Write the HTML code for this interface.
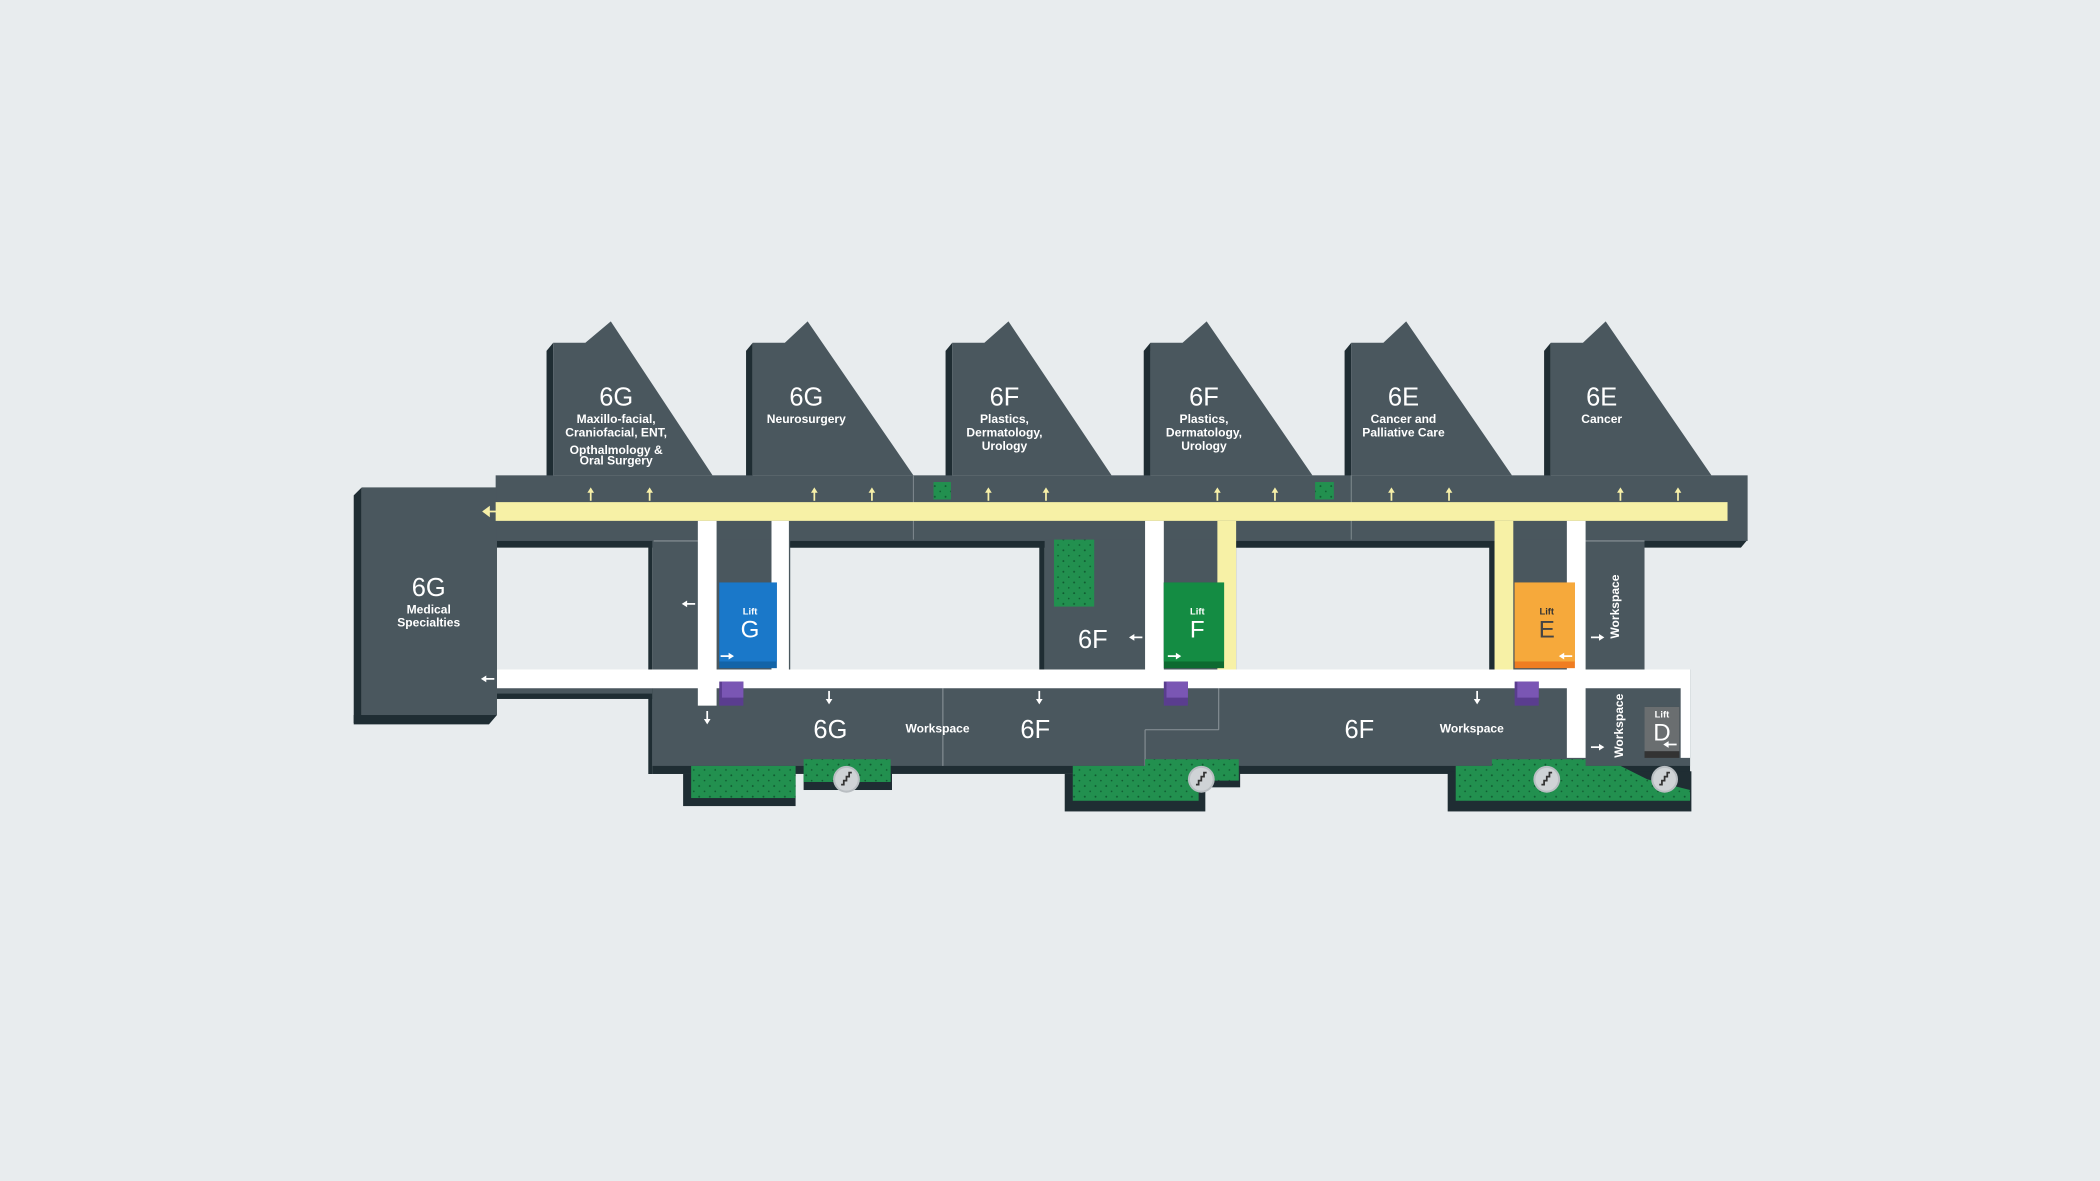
<!DOCTYPE html>
<html><head><meta charset="utf-8"><style>
html,body{margin:0;padding:0;background:#e8ecee;}
svg{display:block}
text{font-family:"Liberation Sans",sans-serif;fill:#fff;text-anchor:middle;font-weight:bold}
text.big{font-weight:normal}
</style></head><body>
<svg width="2100" height="1181" viewBox="0 0 1568 882" xmlns="http://www.w3.org/2000/svg">
<defs>
<pattern id="dots" width="8" height="8" patternUnits="userSpaceOnUse">
<rect width="8" height="8" fill="#22904f"/><circle cx="2" cy="3" r="0.7" fill="#0f5a30"/><circle cx="6" cy="7" r="0.6" fill="#0f5a30"/>
</pattern>
<g id="up"><line x1="0" y1="0" x2="0" y2="-8" stroke="#f7f0a8" stroke-width="1.3"/><path d="M-2.5,-6 L0,-10 L2.5,-6Z" fill="#f7f0a8"/></g>
<g id="wl"><line x1="0" y1="0" x2="8" y2="0" stroke="#fff" stroke-width="1.3"/><path d="M2,-2.5 L-2,0 L2,2.5Z" fill="#fff"/></g>
<g id="wr"><line x1="0" y1="0" x2="-8" y2="0" stroke="#fff" stroke-width="1.3"/><path d="M-2,-2.5 L2,0 L-2,2.5Z" fill="#fff"/></g>
<g id="wd"><line x1="0" y1="0" x2="0" y2="-8" stroke="#fff" stroke-width="1.3"/><path d="M-2.5,-2 L0,2 L2.5,-2Z" fill="#fff"/></g>
<g id="stair"><circle r="10" fill="#b9bec2"/><circle r="8.5" fill="#cfd3d6"/><path d="M-4,4 L-2,4 L-2,1 L0,1 L0,-2 L2,-2 L2,-5 L4,-5" stroke="#333" stroke-width="1.3" fill="none"/></g>
</defs>
<rect width="1568" height="882" fill="#e8ecee"/>

<g fill="#1f2d33">
<path d="M408,262 L413,256 L413,360 L408,360Z"/>
<path d="M557,262 L562,256 L562,360 L557,360Z"/>
<path d="M706,262 L711,256 L711,360 L706,360Z"/>
<path d="M854,262 L859,256 L859,360 L854,360Z"/>
<path d="M1004,262 L1009,256 L1009,360 L1004,360Z"/>
<path d="M1153,262 L1158,256 L1158,360 L1153,360Z"/>
</g>
<g fill="#4a575e">
<path d="M413,256 L437,256 L456,240 L532,355 L413,355Z"/>
<path d="M562,256 L586,256 L603,240 L682,355 L562,355Z"/>
<path d="M711,256 L735,256 L753,240 L830,355 L711,355Z"/>
<path d="M859,256 L883,256 L901,240 L980,355 L859,355Z"/>
<path d="M1009,256 L1033,256 L1050,240 L1129,355 L1009,355Z"/>
<path d="M1158,256 L1182,256 L1199,240 L1278,355 L1158,355Z"/>
</g>

<path d="M370,403 L1305,403 L1300,409 L370,409Z" fill="#1f2d33"/>
<rect x="370" y="355" width="935" height="49" fill="#4a575e"/>
<line x1="682" y1="355" x2="682" y2="403" stroke="#7c878c" stroke-width="0.8"/>
<line x1="1009" y1="355" x2="1009" y2="403" stroke="#7c878c" stroke-width="0.8"/>

<path d="M484,408 L487,405 L487,578 L484,578Z" fill="#1f2d33"/>
<rect x="487" y="403" width="103" height="175" fill="#4a575e"/>
<rect x="590" y="405" width="190" height="4" fill="#1f2d33"/>
<rect x="776" y="405" width="4" height="95" fill="#1f2d33"/>
<rect x="780" y="403" width="143" height="97" fill="#4a575e"/>
<rect x="923" y="405" width="193" height="4" fill="#1f2d33"/>
<rect x="1112" y="405" width="4" height="95" fill="#1f2d33"/>
<rect x="1116" y="403" width="112" height="97" fill="#4a575e"/>
<rect x="371" y="514" width="116" height="8" fill="#1f2d33"/>
<rect x="371" y="512" width="116" height="6" fill="#4a575e"/>
<rect x="487" y="500" width="775" height="78" fill="#1f2d33"/>
<rect x="487" y="500" width="775" height="72" fill="#4a575e"/>
<line x1="488" y1="404" x2="521" y2="404" stroke="#8a9398" stroke-width="0.8"/>
<line x1="1184" y1="404" x2="1228" y2="404" stroke="#8a9398" stroke-width="0.8"/>
<line x1="704" y1="514" x2="704" y2="572" stroke="#8a9398" stroke-width="0.8"/>
<line x1="910" y1="514" x2="910" y2="545" stroke="#8a9398" stroke-width="0.8"/>
<line x1="855" y1="545" x2="910" y2="545" stroke="#8a9398" stroke-width="0.8"/>
<line x1="855" y1="545" x2="855" y2="572" stroke="#8a9398" stroke-width="0.8"/>

<rect x="510" y="578" width="84" height="24" fill="#1f2d33"/>
<rect x="516" y="572" width="78" height="24" fill="url(#dots)"/>
<rect x="600" y="572" width="66" height="18" fill="#1f2d33"/>
<rect x="600" y="567" width="65" height="17" fill="url(#dots)"/>
<rect x="795" y="578" width="105" height="28" fill="#1f2d33"/>
<rect x="886" y="572" width="40" height="16" fill="#1f2d33"/>
<path d="M801,572 L855,572 L855,567 L925,567 L925,583 L895,583 L895,598 L801,598Z" fill="url(#dots)"/>
<rect x="1081" y="576" width="182" height="30" fill="#1f2d33"/>
<path d="M1087,572 L1114,572 L1114,567 L1184,567 L1184,572 L1210,572 L1230,582 L1262,590 L1262,598 L1087,598Z" fill="url(#dots)"/>
<rect x="787" y="403" width="30" height="50" fill="url(#dots)"/>
<rect x="697" y="360" width="13" height="13" fill="url(#dots)"/>
<rect x="982" y="360" width="14" height="13" fill="url(#dots)"/>

<path d="M264,370 L270,364 L270,540 L264,540Z" fill="#1f2d33"/>
<path d="M264,534 L371,534 L365,541 L264,541Z" fill="#1f2d33"/>
<rect x="270" y="364" width="101" height="170" fill="#4a575e"/>

<rect x="370" y="375" width="920" height="14" fill="#f7f1a6"/>
<rect x="371" y="500" width="891" height="14" fill="#fff"/>
<rect x="521" y="389" width="14" height="138" fill="#fff"/>
<rect x="576" y="389" width="13" height="111" fill="#fff"/>
<rect x="855" y="389" width="14" height="111" fill="#fff"/>
<rect x="909" y="389" width="14" height="111" fill="#f7f1a6"/>
<rect x="1116" y="389" width="14" height="111" fill="#f7f1a6"/>
<rect x="1170" y="389" width="14" height="177" fill="#fff"/>
<rect x="1255" y="500" width="7" height="66" fill="#fff"/>

<rect x="537" y="435" width="43" height="64" fill="#1364a8"/>
<rect x="537" y="435" width="43" height="59" fill="#1a78c9"/>
<rect x="869" y="435" width="45" height="64" fill="#0d6a30"/>
<rect x="869" y="435" width="45" height="59" fill="#148c43"/>
<rect x="1131" y="435" width="45" height="64" fill="#ef7d22"/>
<rect x="1131" y="435" width="45" height="59" fill="#f6a93b"/>
<rect x="1228" y="528" width="26" height="38" fill="#333"/>
<rect x="1228" y="528" width="26" height="33" fill="#6a6e70"/>
<text x="560" y="459" font-size="7">Lift</text><text class="big" x="560" y="476" font-size="18">G</text>
<text x="894" y="459" font-size="7">Lift</text><text class="big" x="894" y="476" font-size="18">F</text>
<text x="1155" y="459" font-size="7" style="fill:#333">Lift</text><text class="big" x="1155" y="476" font-size="18" style="fill:#444">E</text>
<text x="1241" y="536" font-size="7">Lift</text><text class="big" x="1241" y="553" font-size="18">D</text>

<g><rect x="537" y="509" width="18" height="18" fill="#5a3d8f"/><rect x="539" y="509" width="16" height="12" fill="#7a56b4"/></g>
<g><rect x="869" y="509" width="18" height="18" fill="#5a3d8f"/><rect x="871" y="509" width="16" height="12" fill="#7a56b4"/></g>
<g><rect x="1131" y="509" width="18" height="18" fill="#5a3d8f"/><rect x="1133" y="509" width="16" height="12" fill="#7a56b4"/></g>

<use href="#up" x="441" y="374"/><use href="#up" x="485" y="374"/>
<use href="#up" x="608" y="374"/><use href="#up" x="651" y="374"/>
<use href="#up" x="738" y="374"/><use href="#up" x="781" y="374"/>
<use href="#up" x="909" y="374"/><use href="#up" x="952" y="374"/>
<use href="#up" x="1039" y="374"/><use href="#up" x="1082" y="374"/>
<use href="#up" x="1210" y="374"/><use href="#up" x="1253" y="374"/>
<path d="M361,382 L365,379 L365,385Z M364,382 L371,382" stroke="#f7f0a8" stroke-width="1.3" fill="#f7f0a8"/>
<use href="#wl" x="361" y="507"/>
<use href="#wl" x="511" y="451"/>
<use href="#wr" x="546" y="490"/>
<use href="#wl" x="845" y="476"/>
<use href="#wr" x="880" y="490"/>
<use href="#wr" x="1196" y="476"/>
<use href="#wl" x="1166" y="490"/>
<use href="#wr" x="1196" y="558"/>
<use href="#wl" x="1244" y="556"/>
<use href="#wd" x="528" y="539"/>
<use href="#wd" x="619" y="524"/>
<use href="#wd" x="776" y="524"/>
<use href="#wd" x="1103" y="524"/>

<use href="#stair" x="632" y="582"/><use href="#stair" x="897" y="582"/>
<use href="#stair" x="1155" y="582"/><use href="#stair" x="1243" y="582"/>

<text class="big" x="460" y="303" font-size="19">6G</text>
<text x="460" y="316" font-size="9">Maxillo-facial,</text>
<text x="460" y="326" font-size="9">Craniofacial, ENT,</text>
<text x="460" y="339" font-size="9">Opthalmology &amp;</text>
<text x="460" y="347" font-size="9">Oral Surgery</text>
<text class="big" x="602" y="303" font-size="19">6G</text>
<text x="602" y="316" font-size="9">Neurosurgery</text>
<text class="big" x="750" y="303" font-size="19">6F</text>
<text x="750" y="316" font-size="9">Plastics,</text>
<text x="750" y="326" font-size="9">Dermatology,</text>
<text x="750" y="336" font-size="9">Urology</text>
<text class="big" x="899" y="303" font-size="19">6F</text>
<text x="899" y="316" font-size="9">Plastics,</text>
<text x="899" y="326" font-size="9">Dermatology,</text>
<text x="899" y="336" font-size="9">Urology</text>
<text class="big" x="1048" y="303" font-size="19">6E</text>
<text x="1048" y="316" font-size="9">Cancer and</text>
<text x="1048" y="326" font-size="9">Palliative Care</text>
<text class="big" x="1196" y="303" font-size="19">6E</text>
<text x="1196" y="316" font-size="9">Cancer</text>
<text class="big" x="320" y="445" font-size="19">6G</text>
<text x="320" y="458" font-size="9">Medical</text>
<text x="320" y="468" font-size="9">Specialties</text>
<text class="big" x="816" y="484" font-size="19">6F</text>
<text class="big" x="620" y="551" font-size="19">6G</text>
<text x="700" y="547" font-size="9">Workspace</text>
<text class="big" x="773" y="551" font-size="19">6F</text>
<text class="big" x="1015" y="551" font-size="19">6F</text>
<text x="1099" y="547" font-size="9">Workspace</text>
<text transform="translate(1209,453) rotate(-90)" font-size="9">Workspace</text>
<text transform="translate(1212,542) rotate(-90)" font-size="9">Workspace</text>
</svg>
</body></html>
